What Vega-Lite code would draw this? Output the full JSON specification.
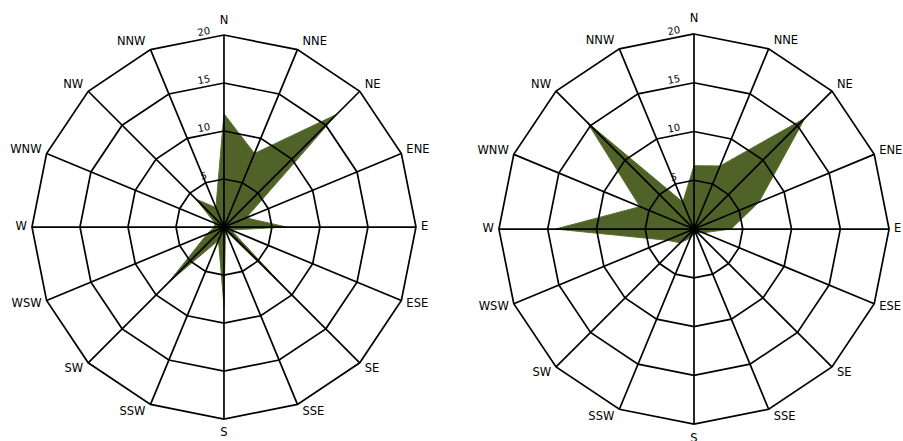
{
  "$schema": "https://vega.github.io/schema/vega-lite/v6.json",
  "autosize": "none",
  "padding": 0,
  "width": 903,
  "height": 441,
  "background": "white",
  "config": {"view": {"stroke": null}, "text": {"font": "DejaVu Sans"}},
  "datasets": {
    "dirs": [
      {"dir": "N", "i": 0}, {"dir": "NNE", "i": 1}, {"dir": "NE", "i": 2}, {"dir": "ENE", "i": 3},
      {"dir": "E", "i": 4}, {"dir": "ESE", "i": 5}, {"dir": "SE", "i": 6}, {"dir": "SSE", "i": 7},
      {"dir": "S", "i": 8}, {"dir": "SSW", "i": 9}, {"dir": "SW", "i": 10}, {"dir": "WSW", "i": 11},
      {"dir": "W", "i": 12}, {"dir": "WNW", "i": 13}, {"dir": "NW", "i": 14}, {"dir": "NNW", "i": 15}
    ],
    "rings": [{"ring": 5, "label": "5"}, {"ring": 10, "label": "10"}, {"ring": 15, "label": "15"}, {"ring": 20, "label": "20"}],
    "wind": [
      {"panel": "A", "dir": "N", "i": 0, "v": 11.8}, {"panel": "A", "dir": "NNE", "i": 1, "v": 8.3},
      {"panel": "A", "dir": "NE", "i": 2, "v": 16.6}, {"panel": "A", "dir": "ENE", "i": 3, "v": 2.5},
      {"panel": "A", "dir": "E", "i": 4, "v": 6.5}, {"panel": "A", "dir": "ESE", "i": 5, "v": 0.8},
      {"panel": "A", "dir": "SE", "i": 6, "v": 9.0}, {"panel": "A", "dir": "SSE", "i": 7, "v": 0.4},
      {"panel": "A", "dir": "S", "i": 8, "v": 8.2}, {"panel": "A", "dir": "SSW", "i": 9, "v": 1.5},
      {"panel": "A", "dir": "SW", "i": 10, "v": 8.2}, {"panel": "A", "dir": "WSW", "i": 11, "v": 1.9},
      {"panel": "A", "dir": "W", "i": 12, "v": 1.0}, {"panel": "A", "dir": "WNW", "i": 13, "v": 1.0},
      {"panel": "A", "dir": "NW", "i": 14, "v": 4.1}, {"panel": "A", "dir": "NNW", "i": 15, "v": 2.2},
      {"panel": "B", "dir": "N", "i": 0, "v": 6.5}, {"panel": "B", "dir": "NNE", "i": 1, "v": 7.0},
      {"panel": "B", "dir": "NE", "i": 2, "v": 16.1}, {"panel": "B", "dir": "ENE", "i": 3, "v": 7.2},
      {"panel": "B", "dir": "E", "i": 4, "v": 3.8}, {"panel": "B", "dir": "ESE", "i": 5, "v": 1.0},
      {"panel": "B", "dir": "SE", "i": 6, "v": 0.5}, {"panel": "B", "dir": "SSE", "i": 7, "v": 0.5},
      {"panel": "B", "dir": "S", "i": 8, "v": 0.5}, {"panel": "B", "dir": "SSW", "i": 9, "v": 1.0},
      {"panel": "B", "dir": "SW", "i": 10, "v": 2.0}, {"panel": "B", "dir": "WSW", "i": 11, "v": 3.0},
      {"panel": "B", "dir": "W", "i": 12, "v": 14.2}, {"panel": "B", "dir": "WNW", "i": 13, "v": 6.0},
      {"panel": "B", "dir": "NW", "i": 14, "v": 15.5}, {"panel": "B", "dir": "NNW", "i": 15, "v": 3.0}
    ]
  },
  "encoding": {
    "x": {"field": "px", "type": "quantitative", "scale": {"domain": [-23.33, 70.73], "nice": false, "zero": false}, "axis": null},
    "y": {"field": "py", "type": "quantitative", "scale": {"domain": [-22.29, 23.65], "nice": false, "zero": false}, "axis": null}
  },
  "layer": [
    {
      "data": {"name": "wind"},
      "transform": [
        {"calculate": "datum.panel == 'A' ? 0 : 48.96", "as": "cx"},
        {"calculate": "datum.panel == 'A' ? 0 : -0.21", "as": "cy"},
        {"calculate": "datum.panel == 'A' ? 1 : 1.016", "as": "f"},
        {"calculate": "datum.i * PI / 8", "as": "a"},
        {"calculate": "datum.cx + datum.f * datum.v * sin(datum.a)", "as": "px"},
        {"calculate": "datum.cy + datum.f * datum.v * cos(datum.a)", "as": "py"}
      ],
      "mark": {"type": "line", "interpolate": "linear-closed", "filled": true, "fill": "#4F6228", "stroke": "#5a7030", "strokeWidth": 1},
      "encoding": {"detail": {"field": "panel", "type": "nominal"}, "order": {"field": "i", "type": "quantitative"}}
    },
    {
      "data": {"name": "dirs"},
      "transform": [
        {"calculate": "['A', 'B']", "as": "panel"},
        {"flatten": ["panel"]},
        {"calculate": "[5, 10, 15, 20]", "as": "ring"},
        {"flatten": ["ring"]},
        {"calculate": "datum.panel == 'A' ? 0 : 48.96", "as": "cx"},
        {"calculate": "datum.panel == 'A' ? 0 : -0.21", "as": "cy"},
        {"calculate": "datum.panel == 'A' ? 1 : 1.016", "as": "f"},
        {"calculate": "datum.i * PI / 8", "as": "a"},
        {"calculate": "datum.cx + datum.f * datum.ring * sin(datum.a)", "as": "px"},
        {"calculate": "datum.cy + datum.f * datum.ring * cos(datum.a)", "as": "py"},
        {"calculate": "datum.panel + datum.ring", "as": "key"}
      ],
      "mark": {"type": "line", "interpolate": "linear-closed", "color": "black", "strokeWidth": 1.7},
      "encoding": {"detail": {"field": "key", "type": "nominal"}, "order": {"field": "i", "type": "quantitative"}}
    },
    {
      "data": {"name": "dirs"},
      "transform": [
        {"calculate": "['A', 'B']", "as": "panel"},
        {"flatten": ["panel"]},
        {"calculate": "datum.panel == 'A' ? 0 : 48.96", "as": "cx"},
        {"calculate": "datum.panel == 'A' ? 0 : -0.21", "as": "cy"},
        {"calculate": "datum.panel == 'A' ? 1 : 1.016", "as": "f"},
        {"calculate": "datum.i * PI / 8", "as": "a"},
        {"calculate": "datum.cx", "as": "px"},
        {"calculate": "datum.cy", "as": "py"},
        {"calculate": "datum.cx + datum.f * 20 * sin(datum.a)", "as": "px2"},
        {"calculate": "datum.cy + datum.f * 20 * cos(datum.a)", "as": "py2"}
      ],
      "mark": {"type": "rule", "color": "black", "strokeWidth": 1.7},
      "encoding": {"x2": {"field": "px2"}, "y2": {"field": "py2"}}
    },
    {
      "data": {"name": "dirs"},
      "transform": [
        {"calculate": "['A', 'B']", "as": "panel"},
        {"flatten": ["panel"]},
        {"calculate": "datum.panel == 'A' ? 0 : 48.96", "as": "cx"},
        {"calculate": "datum.panel == 'A' ? 0 : -0.21", "as": "cy"},
        {"calculate": "datum.panel == 'A' ? 1 : 1.016", "as": "f"},
        {"calculate": "datum.i * PI / 8", "as": "a"},
        {"filter": "sin(datum.a) > 0.01"},
        {"calculate": "datum.cx + datum.f * 20 * sin(datum.a)", "as": "px"},
        {"calculate": "datum.cy + datum.f * 20.9 * cos(datum.a)", "as": "py"}
      ],
      "mark": {"type": "text", "align": "left", "baseline": "middle", "dx": 5, "fontSize": 11.5, "color": "black"},
      "encoding": {"text": {"field": "dir"}}
    },
    {
      "data": {"name": "dirs"},
      "transform": [
        {"calculate": "['A', 'B']", "as": "panel"},
        {"flatten": ["panel"]},
        {"calculate": "datum.panel == 'A' ? 0 : 48.96", "as": "cx"},
        {"calculate": "datum.panel == 'A' ? 0 : -0.21", "as": "cy"},
        {"calculate": "datum.panel == 'A' ? 1 : 1.016", "as": "f"},
        {"calculate": "datum.i * PI / 8", "as": "a"},
        {"filter": "sin(datum.a) < -0.01"},
        {"calculate": "datum.cx + datum.f * 20 * sin(datum.a)", "as": "px"},
        {"calculate": "datum.cy + datum.f * 20.9 * cos(datum.a)", "as": "py"}
      ],
      "mark": {"type": "text", "align": "right", "baseline": "middle", "dx": -5, "fontSize": 11.5, "color": "black"},
      "encoding": {"text": {"field": "dir"}}
    },
    {
      "data": {"name": "dirs"},
      "transform": [
        {"calculate": "['A', 'B']", "as": "panel"},
        {"flatten": ["panel"]},
        {"calculate": "datum.panel == 'A' ? 0 : 48.96", "as": "cx"},
        {"calculate": "datum.panel == 'A' ? 0 : -0.21", "as": "cy"},
        {"calculate": "datum.panel == 'A' ? 1 : 1.016", "as": "f"},
        {"calculate": "datum.i * PI / 8", "as": "a"},
        {"filter": "abs(sin(datum.a)) <= 0.01"},
        {"calculate": "datum.cx", "as": "px"},
        {"calculate": "datum.cy + datum.f * 21.5 * cos(datum.a)", "as": "py"}
      ],
      "mark": {"type": "text", "align": "center", "baseline": "middle", "fontSize": 11.5, "color": "black"},
      "encoding": {"text": {"field": "dir"}}
    },
    {
      "data": {"name": "rings"},
      "transform": [
        {"calculate": "['A', 'B']", "as": "panel"},
        {"flatten": ["panel"]},
        {"calculate": "datum.panel == 'A' ? 0 : 48.96", "as": "cx"},
        {"calculate": "datum.panel == 'A' ? 0 : -0.21", "as": "cy"},
        {"calculate": "datum.panel == 'A' ? 1 : 1.016", "as": "f"},
        {"calculate": "datum.cx - 2.1", "as": "px"},
        {"calculate": "datum.cy + datum.f * (datum.ring + 0.3)", "as": "py"}
      ],
      "mark": {"type": "text", "align": "center", "baseline": "middle", "fontSize": 10, "angle": 349, "color": "black"},
      "encoding": {"text": {"field": "label"}}
    }
  ]
}
